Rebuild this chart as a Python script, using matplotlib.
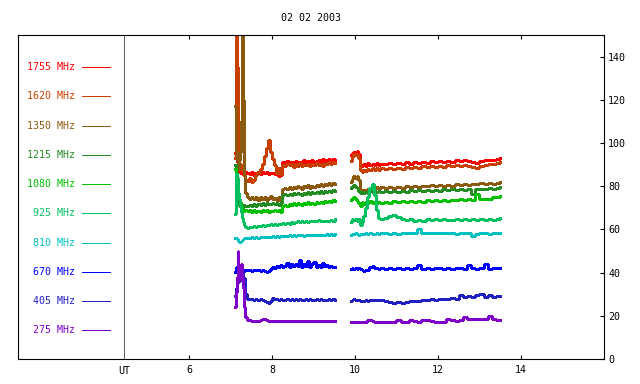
"""
Radio flux at several frequencies, 02 02 2003 (gnuplot-like look)
"""

import matplotlib

matplotlib.use("Agg")
import matplotlib.pyplot as plt

# sample times (UT hours), two observing segments
t_a = [7.11, 7.13, 7.15, 7.17, 7.19, 7.21, 7.23, 7.25, 7.27, 7.30, 7.33, 7.36, 7.40, 7.45,
       7.50, 7.55, 7.60, 7.65, 7.70, 7.75, 7.80, 7.85, 7.90, 7.95, 8.00, 8.05, 8.10, 8.15,
       8.20, 8.25, 8.30, 8.35, 8.40, 8.45, 8.50, 8.55, 8.60, 8.65, 8.70, 8.75, 8.80, 8.85,
       8.90, 8.95, 9.00, 9.05, 9.10, 9.15, 9.20, 9.25, 9.30, 9.35, 9.40, 9.45, 9.52]
t_b = [9.90, 9.93, 9.96, 10.00, 10.04, 10.08, 10.12, 10.16, 10.20, 10.25, 10.30, 10.35,
       10.40, 10.45, 10.50, 10.55, 10.60, 10.70, 10.80, 10.90, 11.00, 11.10, 11.20, 11.30,
       11.40, 11.50, 11.60, 11.70, 11.80, 11.90, 12.00, 12.10, 12.20, 12.30, 12.40, 12.50,
       12.60, 12.70, 12.80, 12.90, 13.00, 13.10, 13.20, 13.30, 13.40, 13.50]

labels = ["1755 MHz", "1620 MHz", "1350 MHz", "1215 MHz", "1080 MHz",
          "925 MHz", "810 MHz", "670 MHz", "405 MHz", "275 MHz"]
colors = ["#ff0000", "#c84000", "#8c5a0f", "#228b22", "#00c000",
          "#00c060", "#00c0c0", "#0000ff", "#2020c0", "#7f00c8"]

f1755_a = [95.5, 94.0, 91.0, 89.0, 87.5, 86.5, 86.0, 87.0, 85.5, 86.5,
           85.5, 86.8, 86.0, 85.8, 86.5, 85.4, 86.2, 86.8, 85.6, 86.4,
           85.9, 86.7, 85.5, 86.3, 86.1, 85.7, 86.6, 84.8, 85.3, 91.0,
           90.4, 91.6, 90.8, 91.2, 90.5, 91.8, 90.9, 91.4, 90.6, 91.9,
           91.0, 91.5, 90.7, 92.0, 91.3, 91.7, 92.2, 91.1, 92.4, 91.6,
           92.3, 92.8, 91.9, 92.6, 92.2]
f1755_b = [94.5, 95.5, 96.0, 95.8, 96.3, 95.0, 90.0, 89.2, 90.3, 89.5,
           90.6, 89.8, 90.4, 89.6, 90.9, 89.9, 90.5, 90.1, 90.8, 90.2,
           90.7, 90.3, 91.0, 90.5, 91.2, 90.8, 91.4, 90.9, 91.6, 91.1,
           91.5, 91.2, 91.8, 91.4, 92.0, 91.6, 92.1, 91.7, 91.3, 90.8,
           91.5, 91.9, 92.3, 92.0, 92.6, 93.2]

f1620_a = [93.0, 155.0, 135.0, 103.0, 92.0, 89.0, 90.5, 88.0, 87.0, 86.0,
           84.5, 83.0, 82.5, 84.0, 82.0, 83.0, 85.0, 86.5, 88.0, 90.5,
           94.0, 97.5, 101.5, 96.0, 92.5, 90.0, 86.0, 88.5, 85.5, 89.8,
           89.2, 90.4, 89.6, 90.1, 89.0, 90.3, 89.5, 90.6, 89.3, 90.0,
           89.7, 90.5, 89.4, 90.2, 89.8, 90.6, 89.9, 90.3, 89.5, 90.8,
           90.2, 91.0, 90.4, 91.3, 90.9]
f1620_b = [91.5, 93.5, 94.8, 94.5, 95.0, 93.0, 87.5, 86.8, 87.6, 86.9,
           88.0, 87.3, 88.2, 87.5, 88.4, 87.7, 88.3, 87.9, 88.6, 88.0,
           88.5, 88.1, 88.8, 88.3, 89.0, 88.6, 89.2, 88.8, 89.4, 89.0,
           89.3, 89.1, 89.6, 89.2, 89.8, 89.5, 89.9, 89.4, 88.9, 88.6,
           89.3, 89.8, 90.4, 90.1, 90.8, 91.3]

f1350_a = [117.0, 96.0, 92.0, 90.0, 88.0, 92.0, 96.0, 110.0, 155.0, 120.0,
           85.0, 77.0, 75.0, 74.0, 75.2, 74.0, 74.8, 73.6, 75.0, 74.2,
           74.9, 73.8, 74.5, 75.3, 74.0, 74.6, 73.5, 74.8, 73.2, 78.5,
           79.2, 78.6, 79.5, 78.9, 79.8, 79.1, 80.0, 79.4, 78.8, 80.2,
           79.6, 80.4, 79.2, 80.1, 79.7, 80.5, 79.9, 80.8, 80.2, 81.0,
           80.4, 81.3, 80.7, 81.5, 81.0]
f1350_b = [82.0, 83.5, 84.5, 84.0, 84.8, 83.0, 78.2, 77.6, 78.4, 77.8,
           78.6, 78.0, 79.2, 78.5, 79.4, 78.8, 79.5, 79.0, 79.7, 79.2,
           79.8, 79.3, 80.0, 79.5, 80.2, 79.6, 80.3, 79.9, 80.5, 80.0,
           80.4, 80.1, 80.7, 80.3, 80.9, 80.5, 81.0, 80.6, 81.2, 80.8,
           81.3, 80.9, 81.5, 81.1, 81.7, 81.9]

f1215_a = [90.0, 84.0, 78.0, 74.0, 72.0, 71.0, 71.5, 70.8, 71.2, 70.9,
           71.3, 70.6, 71.0, 71.4, 70.8, 71.6, 71.0, 71.9, 71.2, 72.0,
           71.4, 72.2, 71.6, 71.9, 72.3, 71.7, 72.1, 71.5, 72.0, 75.8,
           76.3, 75.7, 76.6, 76.0, 76.8, 76.2, 76.9, 76.4, 75.9, 77.0,
           76.5, 77.2, 76.6, 77.4, 76.8, 77.3, 76.9, 77.6, 77.0, 77.8,
           77.2, 78.0, 77.5, 78.2, 77.8]
f1215_b = [79.0, 80.0, 80.5, 79.8, 79.2, 78.0, 76.8, 77.3, 76.9, 77.5,
           77.0, 77.6, 77.1, 77.7, 77.2, 77.8, 77.3, 77.6, 77.2, 77.9,
           77.4, 78.0, 77.5, 78.1, 77.6, 78.2, 77.7, 78.3, 77.9, 78.4,
           78.0, 78.5, 78.1, 78.6, 78.2, 78.7, 78.3, 78.8, 76.5, 78.5,
           78.9, 78.6, 79.1, 78.8, 79.3, 79.6]

f1080_a = [88.0, 84.0, 81.0, 78.0, 76.0, 74.0, 72.5, 71.0, 70.0, 69.0,
           68.5, 69.2, 68.4, 68.9, 68.2, 68.8, 67.9, 68.6, 68.1, 69.0,
           68.3, 68.9, 68.0, 68.7, 68.4, 69.1, 68.5, 68.9, 68.2, 71.0,
           71.5, 70.9, 71.8, 71.2, 72.0, 71.4, 72.1, 71.6, 71.1, 72.3,
           71.8, 72.5, 71.9, 72.2, 71.7, 72.6, 72.0, 72.8, 72.3, 73.0,
           72.5, 73.2, 72.7, 73.4, 73.0]
f1080_b = [73.5, 74.5, 75.0, 74.2, 73.0, 72.0, 71.0, 72.6, 71.8, 72.9,
           72.2, 73.0, 72.4, 72.8, 72.1, 72.9, 72.3, 72.7, 72.2, 73.0,
           72.5, 73.1, 72.6, 73.2, 72.8, 73.3, 72.9, 73.4, 73.0, 73.6,
           73.2, 73.7, 73.3, 73.8, 73.4, 73.9, 73.5, 74.0, 73.6, 76.5,
           73.9, 74.3, 74.0, 74.8, 75.0, 75.4]

f925_a = [67.0, 86.0, 84.0, 80.0, 77.0, 74.0, 71.0, 68.0, 65.5, 63.5,
          62.0, 61.0, 60.5, 61.2, 61.0, 61.5, 61.2, 61.8, 61.4, 62.0,
          61.7, 62.1, 61.9, 62.3, 62.0, 62.4, 62.1, 62.6, 62.3, 62.8,
          62.5, 63.0, 62.7, 63.3, 63.0, 63.5, 63.8, 63.4, 63.9, 63.6,
          63.8, 63.5, 64.0, 63.7, 64.1, 63.8, 64.2, 63.9, 64.0, 63.7,
          64.1, 63.8, 64.3, 64.0, 64.6]
f925_b = [63.5, 64.8, 64.2, 64.9, 64.0, 64.6, 62.0, 63.5, 66.0, 70.0,
          75.0, 79.0, 81.0, 76.0, 69.0, 65.5, 64.8, 65.2, 66.2, 66.5,
          65.8, 64.9, 64.2, 64.6, 64.0, 64.5, 64.1, 64.7, 64.3, 64.8,
          64.4, 64.9, 64.5, 64.2, 64.7, 64.3, 64.8, 64.4, 64.6, 64.2,
          64.7, 64.3, 64.8, 64.5, 65.0, 65.2]

f810_a = [56.0, 55.8, 55.5, 55.0, 54.5, 54.2, 54.0, 54.5, 55.0, 55.4,
          55.8, 56.0, 56.2, 56.0, 56.3, 56.1, 56.4, 56.2, 56.5, 56.3,
          56.6, 56.4, 56.7, 56.5, 56.8, 56.6, 56.9, 56.7, 57.0, 56.8,
          57.1, 56.9, 57.2, 57.0, 57.3, 57.1, 57.4, 57.2, 57.3, 57.1,
          57.4, 57.2, 57.5, 57.3, 57.6, 57.4, 57.5, 57.3, 57.6, 57.4,
          57.7, 57.5, 57.8, 57.6, 58.0]
f810_b = [57.6, 58.0, 57.8, 58.1, 57.9, 57.5, 57.8, 58.0, 57.7, 58.1,
          57.9, 58.2, 58.0, 57.8, 58.1, 58.0, 58.3, 58.1, 57.9, 58.2,
          58.0, 58.3, 58.1, 58.4, 58.2, 60.3, 58.1, 58.4, 58.2, 58.5,
          58.3, 58.1, 58.4, 58.2, 58.0, 58.3, 58.1, 58.2, 57.0, 57.8,
          58.1, 58.3, 58.0, 58.2, 58.1, 58.2]

f670_a = [40.5, 42.5, 41.0, 41.8, 40.8, 41.5, 41.0, 41.3, 40.9, 41.2,
          40.8, 41.1, 41.0, 41.3, 40.9, 41.2, 41.0, 41.4, 40.8, 41.1,
          40.6, 40.2, 40.8, 41.8, 42.5, 42.0, 43.0, 42.4, 43.5, 42.8,
          43.2, 44.6, 42.6, 43.8, 42.9, 44.2, 43.0, 45.8, 42.7, 44.0,
          43.1, 45.2, 42.5, 43.9, 44.8, 42.8, 43.6, 42.4, 44.3, 42.9,
          43.4, 42.6, 43.2, 42.8, 42.6]
f670_b = [41.6, 42.0, 41.7, 42.1, 41.8, 41.9, 41.5, 41.2, 40.9, 41.4,
          41.0, 42.4, 42.9, 42.0, 42.3, 41.8, 42.2, 41.7, 42.1, 41.8,
          42.0, 41.6, 41.9, 41.7, 42.0, 43.4, 41.8, 42.1, 41.7, 41.9,
          42.0, 41.7, 42.1, 41.8, 41.9, 42.2, 41.8, 43.3, 41.9, 41.7,
          42.0, 44.2, 41.8, 42.1, 41.9, 42.3]

f405_a = [29.0, 33.0, 37.5, 35.0, 38.5, 36.0, 39.5, 37.0, 40.5, 38.0,
          37.5, 30.0, 28.0, 27.6, 27.9, 27.4, 27.7, 27.3, 27.6, 27.2,
          26.8, 26.3, 26.0, 26.8, 28.2, 28.0, 27.6, 27.4, 27.8, 27.3,
          27.5, 27.7, 27.2, 27.6, 27.4, 27.8, 27.3, 27.6, 27.5, 27.2,
          27.6, 27.4, 27.8, 27.3, 27.5, 27.7, 27.2, 27.6, 27.4, 27.5,
          27.3, 27.6, 27.4, 27.7, 27.5]
f405_b = [26.8, 27.4, 27.6, 27.3, 27.5, 27.2, 26.8, 27.0, 26.8, 27.1,
          26.9, 27.3, 27.5, 27.3, 27.4, 27.2, 27.3, 27.0, 26.3, 26.0,
          26.2, 26.1, 26.6, 26.8, 26.9, 26.8, 27.2, 27.5, 27.6, 27.4,
          27.8, 28.0, 27.9, 28.2, 28.0, 29.4, 28.9, 29.2, 28.8, 29.5,
          30.3, 28.6, 29.4, 28.7, 29.2, 29.0]

f275_a = [24.0, 31.0, 38.0, 50.0, 36.0, 42.0, 37.0, 44.0, 38.0, 33.0,
          24.0, 19.5, 18.2, 17.9, 17.6, 17.8, 17.5, 17.7, 17.9, 18.4,
          18.5, 18.2, 17.8, 17.6, 17.8, 17.5, 17.7, 17.6, 17.8, 17.5,
          17.6, 17.7, 17.4, 17.6, 17.7, 17.5, 17.6, 17.8, 17.5, 17.6,
          17.7, 17.4, 17.6, 17.5, 17.7, 17.6, 17.5, 17.7, 17.6, 17.4,
          17.6, 17.7, 17.5, 17.6, 17.7]
f275_b = [17.2, 17.2, 17.3, 17.2, 17.2, 17.3, 17.2, 17.2, 17.3, 17.2,
          17.9, 17.9, 17.8, 17.3, 17.2, 17.2, 17.3, 17.2, 17.3, 17.2,
          17.9, 17.3, 17.2, 17.9, 17.8, 17.2, 17.9, 17.9, 17.8, 17.3,
          17.2, 17.3, 18.3, 17.9, 17.8, 18.0, 19.5, 18.6, 18.5, 18.6,
          18.4, 18.5, 19.9, 18.7, 18.2, 17.9]

series = [
    (f1755_a, f1755_b), (f1620_a, f1620_b), (f1350_a, f1350_b),
    (f1215_a, f1215_b), (f1080_a, f1080_b), (f925_a, f925_b),
    (f810_a, f810_b), (f670_a, f670_b), (f405_a, f405_b), (f275_a, f275_b),
]

x_ticks = [6, 8, 10, 12, 14]
y_ticks = [0, 20, 40, 60, 80, 100, 120, 140]
ut_pos = 4.43

font = "DejaVu Sans Mono"
plt.rcParams["font.family"] = font

fig = plt.figure(figsize=(6.4, 3.84), dpi=100)
ax = fig.add_axes([0.0281, 0.0651, 0.9156, 0.8438])

thin = 0.72  # about one pixel

# plot the two segments of each frequency (data traces a bit heavier)
for (ya, yb), c in zip(series, colors):
    ax.plot(t_a, ya, color=c, lw=1.0, drawstyle="steps-post", antialiased=False)
    ax.plot(t_b, yb, color=c, lw=1.0, drawstyle="steps-post", antialiased=False)

# legend at the left, drawn by hand like gnuplot does
for i, (lab, c) in enumerate(zip(labels, colors)):
    yy = 0.901 - i * 0.0903
    ax.text(0.097, yy, lab, color=c, fontsize=7.2, ha="right", va="center",
            transform=ax.transAxes)
    ax.plot([0.109, 0.157], [yy, yy], color=c, lw=thin, transform=ax.transAxes,
            antialiased=False)

ax.axvline(ut_pos, color="#606060", lw=thin, antialiased=False)
ax.text(ut_pos, -0.022, "UT", fontsize=7.2, ha="center", va="top",
        transform=ax.get_xaxis_transform())

ax.set_xlim(1.88, 16.0)
ax.set_ylim(0, 150)
ax.set_xticks(x_ticks)
ax.set_xticklabels([str(v) for v in x_ticks])
ax.yaxis.tick_right()
ax.set_yticks(y_ticks)
ax.tick_params(axis="x", direction="in", top=True, bottom=True, length=3,
               width=0.8, labelsize=7.2, pad=4)
ax.tick_params(axis="y", direction="in", left=False, right=True, length=3,
               width=0.8, labelsize=7.2, pad=3)
for s in ax.spines.values():
    s.set_linewidth(0.8)

fig.text(0.486, 1 - 18 / 384, "02 02 2003", fontsize=7.2, ha="center", va="center")

fig.savefig("out.png", dpi=100)
